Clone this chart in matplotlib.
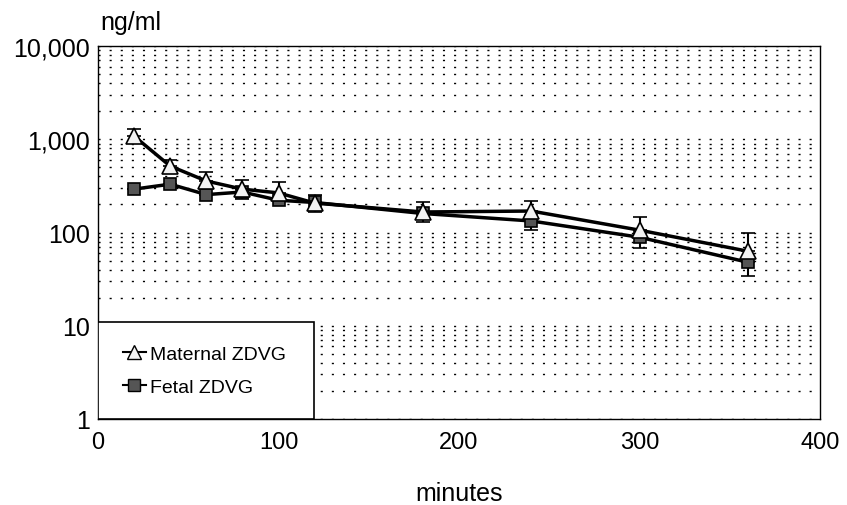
import numpy as np
import matplotlib.pyplot as plt
from matplotlib.patches import Rectangle
from matplotlib.ticker import FixedLocator, LogLocator, NullFormatter

plt.rcParams['font.family'] = ['Liberation Sans', 'DejaVu Sans']

# data
minutes = [20, 40, 60, 80, 100, 120, 180, 240, 300, 360]
maternal = [1080, 516, 357, 292, 266, 207, 166, 170, 106, 63]
maternal_err = [210, 84, 88, 74, 81, 44, 46, 48, 41, 36]
fetal = [292, 330, 255, 272, 222, 210, 160, 133, 89, 48]
fetal_err = [0, 0, 0, 43, 0, 44, 31, 27, 21, 14]

y_ticks = [1, 10, 100, 1000, 10000]
y_labels = ['1', '10', '100', '1,000', '10,000']
x_ticks = [0, 100, 200, 300, 400]

fig = plt.figure(figsize=(8.47, 5.06), dpi=100)
ax = fig.add_axes([0.1157, 0.170, 0.8525, 0.737])

ax.set_yscale('log')
ax.set_ylim(1, 10000)
ax.set_xlim(0, 400)

# dotted horizontal grid at every decade step
ax.yaxis.set_major_locator(FixedLocator(y_ticks))
ax.yaxis.set_minor_locator(LogLocator(base=10, subs=np.arange(2, 10)))
ax.yaxis.set_minor_formatter(NullFormatter())
ax.set_yticklabels(y_labels)
ax.set_xticks(x_ticks)
ax.grid(axis='y', which='both', color='black', linestyle=(0, (1.5, 6.5)), lw=1.0)
ax.set_axisbelow(True)

ax.errorbar(minutes, maternal, yerr=[np.zeros(len(maternal)), maternal_err],
            color='black', lw=2.5, elinewidth=1.5, capsize=5, capthick=2.2,
            marker='^', ms=12, mfc='#f2f2f2', mec='black', mew=1.2, zorder=4)
ax.errorbar(minutes, fetal, yerr=[fetal_err, np.zeros(len(fetal))],
            color='black', lw=2.5, elinewidth=1.5, capsize=5, capthick=2.2,
            marker='s', ms=9, mfc='#555555', mec='black', mew=1.2, zorder=3)

ax.tick_params(axis='both', which='both', length=0)
ax.tick_params(axis='y', labelsize=18, pad=6)
ax.tick_params(axis='x', labelsize=17, pad=9)
for s in ax.spines.values():
    s.set_linewidth(1.0)

# legend box
ax.add_patch(Rectangle((0, 0), 0.299, 0.26, transform=ax.transAxes,
                       facecolor='white', edgecolor='black', lw=1.2, zorder=5))
h1, = ax.plot([], [], color='black', lw=1.5, marker='^', ms=10, mfc='#f2f2f2', mec='black')
h2, = ax.plot([], [], color='black', lw=1.5, marker='s', ms=8, mfc='#555555', mec='black')
leg = ax.legend([h1, h2], ['Maternal ZDVG', 'Fetal ZDVG'], loc='center left',
                bbox_to_anchor=(0.01, 0.13), frameon=False, fontsize=14,
                handlelength=1.2, handletextpad=0.2, labelspacing=0.8)
leg.set_zorder(6)

ax.set_xlabel('minutes', fontsize=18, labelpad=20)
fig.text(0.118, 0.955, 'ng/ml', fontsize=18, ha='left', va='center')

fig.savefig('out.png', dpi=100)
